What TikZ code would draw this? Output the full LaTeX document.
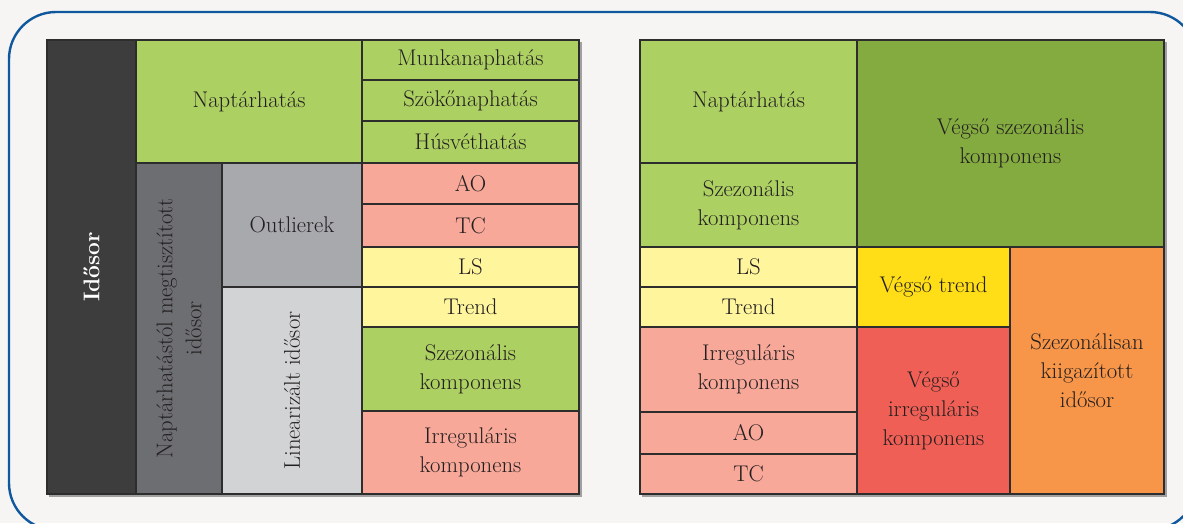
\documentclass[tikz,border=0pt]{standalone}
\usepackage{fontspec}
\usetikzlibrary{positioning}
\definecolor{bg}{RGB}{246,245,243}
\definecolor{frameblue}{RGB}{16,88,158}
\definecolor{edge}{RGB}{45,45,45}
\definecolor{txt}{RGB}{35,31,32}
\definecolor{cgreen}{RGB}{173,208,98}
\definecolor{cdgreen}{RGB}{132,171,64}
\definecolor{cpink}{RGB}{248,168,153}
\definecolor{cly}{RGB}{255,245,157}
\definecolor{cyel}{RGB}{255,222,23}
\definecolor{cred}{RGB}{240,95,85}
\definecolor{corange}{RGB}{247,150,73}
\definecolor{gdark}{RGB}{61,61,61}
\definecolor{gmid}{RGB}{109,110,114}
\definecolor{glight}{RGB}{167,169,172}
\definecolor{glighter}{RGB}{209,211,212}
\definecolor{shadowc}{RGB}{160,160,160}
\tikzset{
  cellbox/.style={draw=edge, line width=1.2pt, inner sep=0pt, outer sep=0pt,
    text=txt, align=center, font=\fontsize{22.7}{29}\selectfont},
  vlabel/.style={rotate=90, inner sep=0pt, text=txt, align=center, font=\fontsize{22.7}{29}\selectfont}
}
% \cell{name}{x1}{y1}{x2}{y2}{fill}{text}
\newcommand{\cell}[7]{%
  \pgfmathsetmacro{\cw}{#4-#2}\pgfmathsetmacro{\ch}{#5-#3}%
  \node[cellbox, fill=#6, minimum width=\cw pt, minimum height=\ch pt] (#1) at ({(#2+#4)/2},{(#3+#5)/2}) {#7};}
\begin{document}
\begin{tikzpicture}[x=1pt,y=-1pt]
\useasboundingbox (0,0) rectangle (1183,523);
\fill[bg] (0,0) rectangle (1183,523);
\begin{scope}
\clip (0,0) rectangle (1183,523);
\draw[frameblue, line width=2.4pt, rounded corners=47pt] (9,12) rectangle (1197,530);
\end{scope}
% shadows
\fill[shadowc] (49,42) rectangle (581.5,496.5);
\fill[shadowc] (642,42) rectangle (1166.5,496.5);
% left table
\cell{idosor}{47}{40}{136}{494}{gdark}{}
\node[vlabel, text=white, font=\fontsize{22.7}{29}\selectfont\bfseries] (idosorT) at (idosor.center) {Idősor};
\cell{napt}{136}{40}{362}{163}{cgreen}{Naptárhatás}
\cell{munka}{362}{40}{579}{80}{cgreen}{Munkanaphatás}
\cell{szoko}{362}{80}{579}{121}{cgreen}{Szökőnaphatás}
\cell{husvet}{362}{121}{579}{163}{cgreen}{Húsvéthatás}
\cell{ntm}{136}{163}{222}{494}{gmid}{}
\node[vlabel] (ntmT) at (ntm.center) {Naptárhatástól megtisztított\\idősor};
\cell{outl}{222}{163}{362}{287}{glight}{Outlierek}
\cell{lin}{222}{287}{362}{494}{glighter}{}
\node[vlabel] (linT) at (lin.center) {Linearizált idősor};
\cell{ao}{362}{163}{579}{204}{cpink}{AO}
\cell{tc}{362}{204}{579}{247}{cpink}{TC}
\cell{ls}{362}{247}{579}{287}{cly}{LS}
\cell{trend}{362}{287}{579}{327}{cly}{Trend}
\cell{szez}{362}{327}{579}{411}{cgreen}{Szezonális\\komponens}
\cell{irr}{362}{411}{579}{494}{cpink}{Irreguláris\\komponens}
% right table
\cell{naptR}{640}{40}{857}{163}{cgreen}{Naptárhatás}
\cell{szezR}{640}{163}{857}{247}{cgreen}{Szezonális\\komponens}
\cell{vszez}{857}{40}{1164}{247}{cdgreen}{Végső szezonális\\komponens}
\cell{lsR}{640}{247}{857}{287}{cly}{LS}
\cell{trendR}{640}{287}{857}{327}{cly}{Trend}
\cell{irrR}{640}{327}{857}{412}{cpink}{Irreguláris\\komponens}
\cell{aoR}{640}{412}{857}{454}{cpink}{AO}
\cell{tcR}{640}{454}{857}{494}{cpink}{TC}
\cell{vtrend}{857}{247}{1010}{327}{cyel}{Végső trend}
\cell{virr}{857}{327}{1010}{494}{cred}{Végső\\irreguláris\\komponens}
\cell{szk}{1010}{247}{1164}{494}{corange}{Szezonálisan\\kiigazított\\idősor}
\end{tikzpicture}
\end{document}
